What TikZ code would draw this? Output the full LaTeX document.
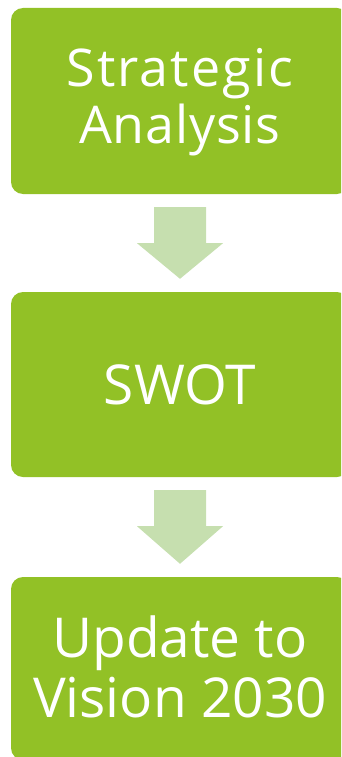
\documentclass[tikz,border=0pt]{standalone}
\usepackage{fontspec}
\setmainfont{Open Sans}
\usetikzlibrary{calc}
\definecolor{boxgreen}{HTML}{92C126}
\definecolor{arrowgreen}{HTML}{C6DFAF}
\begin{document}
\begin{tikzpicture}[x=1pt,y=1pt,
  box/.style={fill=boxgreen, rounded corners=12pt, minimum width=338pt, inner sep=0pt},
  label/.style={text=white, align=center, inner sep=0pt, anchor=base},
  flow/.style={fill=arrowgreen}]
\useasboundingbox (0,0) rectangle (341,-757);
\clip (0,0) rectangle (341,-757);
\node[box, minimum height=186pt] (b1) at (180,-101) {};
\node[box, minimum height=185pt] (b2) at (180,-384.5) {};
\node[box, minimum height=183pt] (b3) at (180,-668.5) {};
\node[label, font=\fontsize{52}{57}\selectfont] (t1) at (180,-143) {{\addfontfeature{LetterSpace=4}Strategic}\\{\addfontfeature{LetterSpace=1.5}Analysis}};
\node[label, font=\fontsize{55}{68}\selectfont] (t2) at (180,-404) {SWOT};
\node[label, font=\fontsize{55}{60}\selectfont] (t3) at (180,-717) {Update to\\Vision 2030};
\foreach \a/\b in {b1/b2, b2/b3} {
  \fill[flow] ($(\a.south)+(-26,-13)$) -- ($(\a.south)+(26,-13)$) -- ($(\a.south)+(26,-49)$) -- ($(\a.south)+(43,-49)$) -- ($(\b.north)+(0,13)$) -- ($(\a.south)+(-43,-49)$) -- ($(\a.south)+(-26,-49)$) -- cycle;
}
\end{tikzpicture}
\end{document}
